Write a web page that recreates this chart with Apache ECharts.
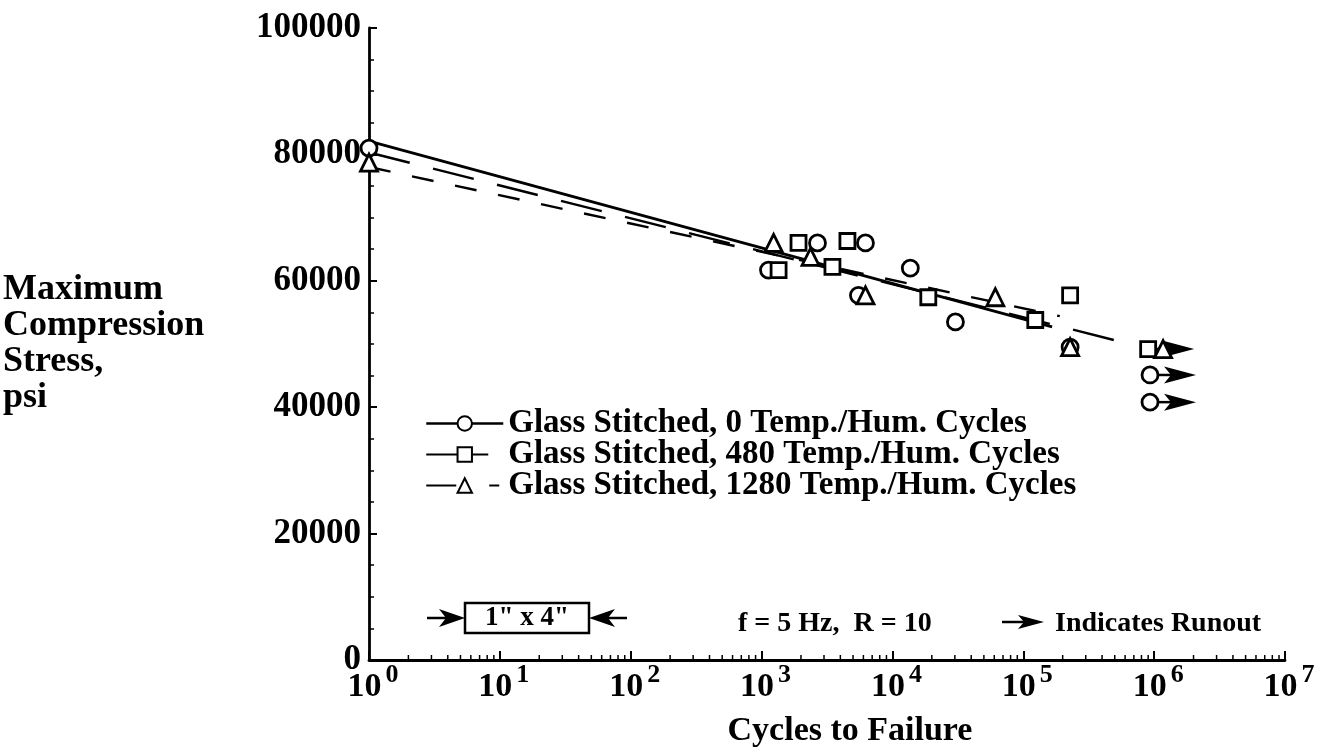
<!DOCTYPE html>
<html>
<head>
<meta charset="utf-8">
<script src="https://cdn.jsdelivr.net/npm/echarts@6/dist/echarts.min.js"></script>
<style>
  html, body { margin: 0; padding: 0; background: #fff; }
  #chart { width: 1329px; height: 753px; }
</style>
</head>
<body>
<div id="chart"></div>
<script>
// ---- Data: compression fatigue of stitched glass laminates ----
const seriesNames = [
  'Glass Stitched, 0 Temp./Hum. Cycles',
  'Glass Stitched, 480 Temp./Hum. Cycles',
  'Glass Stitched, 1280 Temp./Hum. Cycles'
];

// 0 cycles (circles)
const cycles0 = [1, 1130, 2675, 6220, 5500, 13700, 30300, 228000];
const stress0 = [81000, 61700, 66000, 66000, 57700, 62000, 53500, 49500];
// 480 cycles (squares)
const cycles480 = [1349, 1916, 4530, 3480, 18800, 123500, 228000];
const stress480 = [61700, 66000, 66300, 62200, 57400, 53800, 57700];
// 1280 cycles (triangles)
const cycles1280 = [1, 1236, 2366, 6220, 61100, 228000];
const stress1280 = [78700, 66000, 63800, 57700, 57400, 49500];

// runouts (specimens that did not fail)
const runoutCycles0 = [930000, 930000];
const runoutStress0 = [45100, 40800];
const runoutCycles480 = [900000];
const runoutStress480 = [49200];
const runoutCycles1280 = [1170000];
const runoutStress1280 = [49200];

// one arrow per runout row
const arrowCycles = [900000, 930000, 930000];
const arrowStress = [49200, 45100, 40800];

// fitted S-N lines: [start cycles, end cycles], [start stress, end stress]
const fitCycles0 = [1, 166000];
const fitStress0 = [82100, 52700];
const fitCycles480 = [1, 500000];
const fitStress480 = [80300, 50600];
const fitCycles1280 = [1, 190000];
const fitStress1280 = [78000, 54400];

// axis ticks
const xMin = 1, xMax = 1e7;
const yMin = 0, yMax = 100000, yStep = 20000;
const minorMultipliers = [2, 3, 4, 5, 6, 7, 8, 9];
const decades = [1, 10, 100, 1000, 10000, 100000, 1000000];

// ---- helpers ----
const FONT = '"Liberation Serif", "Times New Roman", Times, serif';
const zip = (a, b) => a.map((v, i) => [v, b[i]]);
const minorTickValues = [];
decades.forEach(d => minorMultipliers.forEach(m => minorTickValues.push([d * m, 0])));

function arrowShape(tipX, y, dir, headLen, halfH, notch) {
  // dir = 1 points right, -1 points left
  return [
    [tipX, y],
    [tipX - dir * headLen, y - halfH],
    [tipX - dir * (headLen - notch), y],
    [tipX - dir * headLen, y + halfH]
  ];
}

const chart = echarts.init(document.getElementById('chart'), null, { renderer: 'canvas' });

const markerStyle = { color: '#fff', borderColor: '#000', borderWidth: 2.8, opacity: 1 };

const option = {
  backgroundColor: '#fff',
  animation: false,
  textStyle: { fontFamily: FONT, color: '#000' },
  grid: { left: 368, right: 44, top: 28, bottom: 93, containLabel: false },
  legend: {
    orient: 'vertical',
    left: 420,
    top: 402,
    itemWidth: 77,
    itemHeight: 18,
    itemGap: -2,
    selectedMode: false,
    data: [
      { name: seriesNames[0], lineStyle: { type: 'solid', width: 2.5 } },
      { name: seriesNames[1], lineStyle: { type: [62, 40], width: 2.2 } },
      { name: seriesNames[2], lineStyle: { type: [30, 33, 10, 40], width: 2.2 } }
    ],
    textStyle: { fontFamily: FONT, fontSize: 33, fontWeight: 'bold', color: '#000', lineHeight: 29 }
  },
  xAxis: {
    type: 'log',
    logBase: 10,
    min: xMin,
    max: xMax,
    splitNumber: 7,
    axisLine: { lineStyle: { color: '#000', width: 2.8 } },
    axisTick: { inside: true, length: 9, lineStyle: { color: '#000', width: 2 } },
    splitLine: { show: false },
    axisLabel: {
      margin: 10,
      showMinLabel: true,
      showMaxLabel: true,
      padding: [0, 0, 0, 8],
      formatter: v => '{b|10}{s|' + Math.round(Math.log10(v)) + '}',
      rich: {
        b: { fontFamily: FONT, fontSize: 34, fontWeight: 'bold', color: '#000', lineHeight: 34, verticalAlign: 'bottom' },
        s: { fontFamily: FONT, fontSize: 26, fontWeight: 'bold', color: '#000', lineHeight: 26, padding: [0, 0, 16, 4], verticalAlign: 'bottom' }
      }
    },
    name: 'Cycles to Failure',
    nameLocation: 'middle',
    nameGap: 54,
    nameTextStyle: { fontFamily: FONT, fontSize: 34, fontWeight: 'bold', color: '#000', padding: [0, 0, 0, 46] }
  },
  yAxis: {
    type: 'value',
    min: yMin,
    max: yMax,
    interval: yStep,
    axisLine: { show: true, lineStyle: { color: '#000', width: 2.8 } },
    axisTick: { show: true, inside: true, length: 8, lineStyle: { color: '#000', width: 2 } },
    minorTick: { show: true, splitNumber: 4, length: 5, lineStyle: { color: '#000', width: 1.5 } },
    splitLine: { show: false },
    axisLabel: {
      fontFamily: FONT, fontSize: 35, fontWeight: 'bold', color: '#000', margin: 8,
      formatter: v => String(v)
    },
    name: 'Maximum\nCompression\nStress,\npsi',
    nameLocation: 'middle',
    nameRotate: 0,
    nameGap: 366,
    nameTextStyle: { fontFamily: FONT, fontSize: 36, fontWeight: 'bold', color: '#000', align: 'left', verticalAlign: 'middle', lineHeight: 36 }
  },
  series: [
    // fitted lines (also provide the legend entries)
    {
      name: seriesNames[0], type: 'line', data: zip(fitCycles0, fitStress0),
      symbol: 'emptyCircle', symbolSize: 13, showSymbol: false, silent: true,
      lineStyle: { color: '#000', width: 2.8, type: 'solid' },
      itemStyle: { color: '#000', borderColor: '#000', borderWidth: 2.2 }, z: 2
    },
    {
      name: seriesNames[1], type: 'line', data: zip(fitCycles480, fitStress480),
      symbol: 'emptyRect', symbolSize: 13, showSymbol: false, silent: true,
      lineStyle: { color: '#000', width: 2.4, type: [42, 24] },
      itemStyle: { color: '#000', borderColor: '#000', borderWidth: 2.2 }, z: 2
    },
    {
      name: seriesNames[2], type: 'line', data: zip(fitCycles1280, fitStress1280),
      symbol: 'emptyTriangle', symbolSize: 13, showSymbol: false, silent: true,
      lineStyle: { color: '#000', width: 2.4, type: [22, 22] },
      itemStyle: { color: '#000', borderColor: '#000', borderWidth: 2.2 }, z: 2
    },
    // runout arrows
    {
      name: 'runout', type: 'custom', silent: true, z: 3,
      data: zip(arrowCycles, arrowStress),
      renderItem: (params, api) => {
        const p = api.coord([api.value(0), api.value(1)]);
        const tip = p[0] + 46;
        return {
          type: 'group',
          children: [
            { type: 'line', shape: { x1: p[0] + 6, y1: p[1], x2: tip - 20, y2: p[1] },
              style: { stroke: '#000', lineWidth: 2.5 } },
            { type: 'polygon', shape: { points: arrowShape(tip, p[1], 1, 32, 8.5, 7) },
              style: { fill: '#000' } }
          ]
        };
      }
    },
    // test data
    {
      name: '0 cycles', type: 'scatter', symbol: 'circle', symbolSize: 16,
      data: zip(cycles0, stress0).concat(zip(runoutCycles0, runoutStress0)),
      itemStyle: markerStyle, z: 5
    },
    {
      name: '480 cycles', type: 'scatter', symbol: 'rect', symbolSize: 15,
      data: zip(cycles480, stress480).concat(zip(runoutCycles480, runoutStress480)),
      itemStyle: markerStyle, z: 5
    },
    {
      name: '1280 cycles', type: 'scatter', symbol: 'triangle', symbolSize: 17,
      data: zip(cycles1280, stress1280).concat(zip(runoutCycles1280, runoutStress1280)),
      itemStyle: markerStyle, z: 5
    },
    // minor ticks of the logarithmic axis (2..9 in each decade)
    {
      name: 'minorTicks', type: 'custom', silent: true, z: 4,
      data: minorTickValues,
      renderItem: (params, api) => {
        const p = api.coord([api.value(0), yMin]);
        return { type: 'line', shape: { x1: p[0], y1: p[1], x2: p[0], y2: p[1] - 5 },
                 style: { stroke: '#000', lineWidth: 1.5 } };
      }
    }
  ],
  graphic: [
    // specimen size note
    { type: 'rect', shape: { x: 465, y: 603, width: 124, height: 30 },
      style: { fill: '#fff', stroke: '#000', lineWidth: 2.5 } },
    { type: 'text', x: 527, y: 618,
      style: { text: '1" x 4"', font: 'bold 27px ' + FONT, fill: '#000', align: 'center', verticalAlign: 'middle' } },
    { type: 'line', shape: { x1: 427, y1: 618, x2: 450, y2: 618 }, style: { stroke: '#000', lineWidth: 2.5 } },
    { type: 'polygon', shape: { points: arrowShape(465, 618, 1, 26, 9, 7) }, style: { fill: '#000' } },
    { type: 'line', shape: { x1: 604, y1: 618, x2: 627, y2: 618 }, style: { stroke: '#000', lineWidth: 2.5 } },
    { type: 'polygon', shape: { points: arrowShape(589, 618, -1, 26, 9, 7) }, style: { fill: '#000' } },
    // test conditions
    { type: 'text', x: 738, y: 624,
      style: { text: 'f = 5 Hz,  R = 10', font: 'bold 28px ' + FONT, fill: '#000', align: 'left', verticalAlign: 'middle' } },
    // runout key
    { type: 'line', shape: { x1: 1002, y1: 622, x2: 1025, y2: 622 }, style: { stroke: '#000', lineWidth: 2.5 } },
    { type: 'polygon', shape: { points: arrowShape(1044, 622, 1, 26, 7, 6) }, style: { fill: '#000' } },
    { type: 'text', x: 1055, y: 624,
      style: { text: 'Indicates Runout', font: 'bold 28px ' + FONT, fill: '#000', align: 'left', verticalAlign: 'middle' } }
  ]
};

chart.setOption(option);
</script>
</body>
</html>
